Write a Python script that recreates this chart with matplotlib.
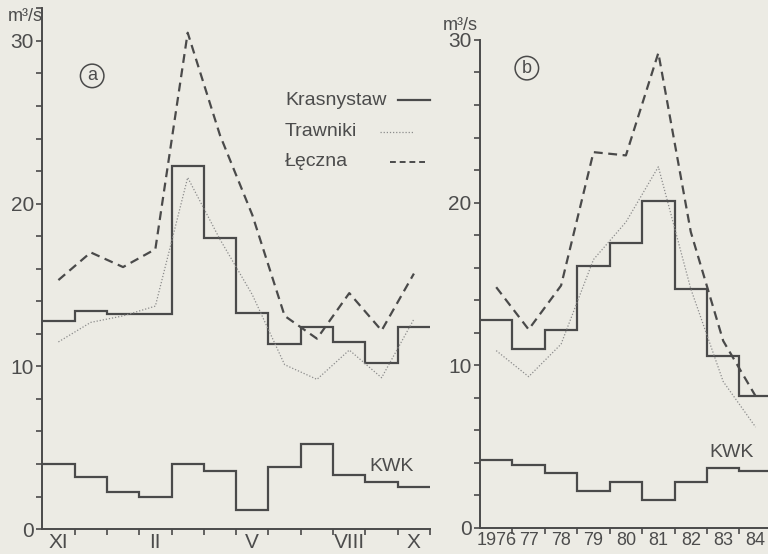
import matplotlib.pyplot as plt
from matplotlib.lines import Line2D
from matplotlib.ticker import MultipleLocator

# (a) mean monthly discharge over the hydrological year XI-X
months = ['XI', 'XII', 'I', 'II', 'III', 'IV', 'V', 'VI', 'VII', 'VIII', 'IX', 'X']
month_labels = ['XI', '', '', 'II', '', '', 'V', '', '', 'VIII', '', 'X']
krasnystaw_m = [12.8, 13.4, 13.2, 13.2, 22.3, 17.9, 13.3, 11.4, 12.4, 11.5, 10.2, 12.4]
trawniki_m = [11.5, 12.7, 13.1, 13.7, 21.6, 17.8, 14.4, 10.1, 9.2, 11.0, 9.3, 12.9]
leczna_m = [15.3, 17.0, 16.1, 17.2, 30.5, 24.2, 19.3, 13.1, 11.7, 14.5, 12.2, 15.7]
kwk_m = [4.0, 3.2, 2.25, 2.0, 4.0, 3.55, 1.15, 3.8, 5.25, 3.3, 2.9, 2.6]

# (b) mean annual discharge 1976-84
years = ['1976', '77', '78', '79', '80', '81', '82', '83', '84']
krasnystaw_y = [12.8, 11.0, 12.15, 16.1, 17.5, 20.1, 14.7, 10.6, 8.1]
trawniki_y = [10.9, 9.3, 11.3, 16.5, 18.8, 22.2, 14.7, 9.0, 6.2]
leczna_y = [14.8, 12.2, 14.9, 23.1, 22.9, 29.2, 18.2, 11.5, 8.1]
kwk_y = [4.15, 3.9, 3.4, 2.3, 2.8, 1.7, 2.8, 3.7, 3.5]

BG = '#ecebe4'
INK = '#4a4a4a'
TXT = '#4c4c4c'
DOT = '#8c8c8c'

plt.rcParams['font.family'] = ['Liberation Sans', 'DejaVu Sans']

fig = plt.figure(figsize=(7.68, 5.54), dpi=100, facecolor=BG)


def draw_panel(ax, labels, tick_labels, kras, traw, lecz, kwk, ytop, xsize):
    n = len(labels)
    edges = list(range(n + 1))
    centers = [i + 0.5 for i in range(n)]
    ax.set_facecolor(BG)
    ax.stairs(kras, edges, baseline=None, color=INK, lw=1.6)
    ax.stairs(kwk, edges, baseline=None, color=INK, lw=1.6)
    ax.plot(centers, traw, color=DOT, lw=0.9, ls=(0, (1, 1.5)))
    ax.plot(centers, lecz, color=INK, lw=1.6, ls=(0, (4, 2.5)))
    ax.set_xlim(0, n)
    ax.set_ylim(0, ytop)
    for s in ('top', 'right'):
        ax.spines[s].set_visible(False)
    for s in ('left', 'bottom'):
        ax.spines[s].set_color(INK)
        ax.spines[s].set_linewidth(1.4)
    ax.set_xticks(edges[1:])
    ax.set_xticklabels([])
    ax.set_xticks(centers, tick_labels, minor=True)
    ax.tick_params(axis='x', which='major', length=4, width=1.2, color=INK)
    ax.tick_params(axis='x', which='minor', length=0, pad=3, labelsize=xsize,
                   labelcolor=TXT)
    ax.set_yticks([0, 10, 20, 30])
    ax.yaxis.set_minor_locator(MultipleLocator(2))
    ax.tick_params(axis='y', which='both', length=4, width=1.2, color=INK, pad=2,
                   labelsize=15, labelcolor=TXT)


ax_a = fig.add_axes([0.055, 0.045, 0.505, 0.940])
draw_panel(ax_a, months, month_labels, krasnystaw_m, trawniki_m, leczna_m, kwk_m, 32, 15)
ax_a.text(10.8, 3.3, 'KWK', ha='center', va='bottom', color=TXT, fontsize=14)

ax_b = fig.add_axes([0.625, 0.047, 0.380, 0.881])
draw_panel(ax_b, years, years, krasnystaw_y, trawniki_y, leczna_y, kwk_y, 30, 13)
ax_b.text(7.77, 4.1, 'KWK', ha='center', va='bottom', color=TXT, fontsize=14)

# units and panel markers
fig.text(0.010, 0.985, 'm³/s', ha='left', va='top', fontsize=13, color=TXT)
fig.text(0.577, 0.970, 'm³/s', ha='left', va='top', fontsize=13, color=TXT)
for x, y, letter in [(0.120, 0.863, 'a'), (0.686, 0.877, 'b')]:
    fig.text(x, y, letter, ha='center', va='center', fontsize=13, color=TXT,
             bbox=dict(boxstyle='circle,pad=0.18', fc='none', ec=INK, lw=1.1))

# key
key = [('Krasnystaw', 0.819, (0.518, 0.560), dict(color=INK, lw=1.6)),
       ('Trawniki', 0.762, (0.495, 0.538), dict(color=DOT, lw=0.9, ls=(0, (1, 1.5)))),
       ('Łęczna', 0.708, (0.508, 0.553), dict(color=INK, lw=1.4, ls=(0, (3, 2))))]
for name, y, (x0, x1), style in key:
    fig.text(0.371, y, name, ha='left', va='center', fontsize=14, color=TXT)
    fig.add_artist(Line2D([x0, x1], [y, y], transform=fig.transFigure, **style))

fig.savefig('out.png', dpi=100, facecolor=BG)
